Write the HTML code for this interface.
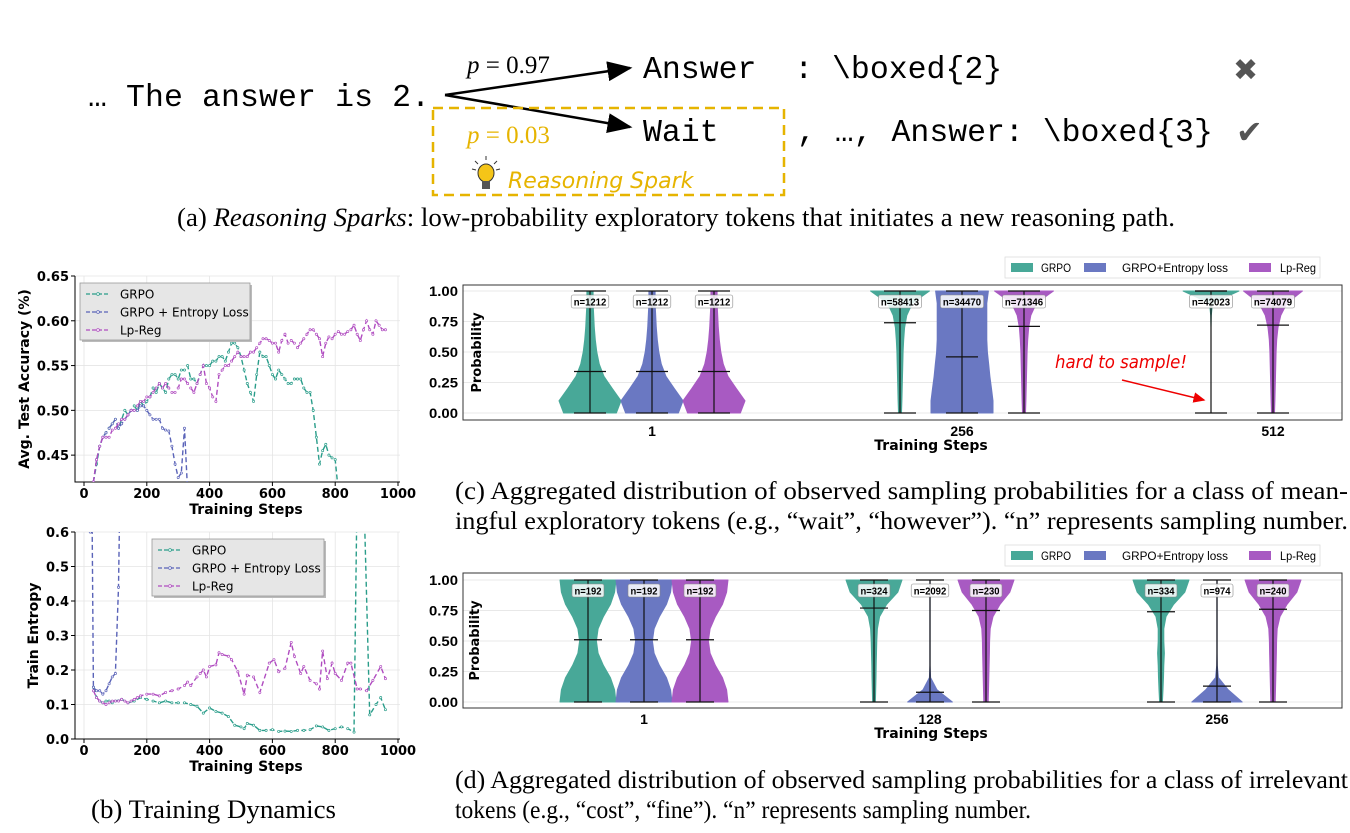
<!DOCTYPE html>
<html><head><meta charset="utf-8">
<style>
html,body{margin:0;padding:0;background:#fff;}
svg{display:block;}
.mono{font-family:"Liberation Mono","DejaVu Sans Mono",monospace;}
.serif{font-family:"Liberation Serif",serif;}
.sans{font-family:"DejaVu Sans","Liberation Sans",sans-serif;}
.cond{font-family:"Liberation Sans Narrow","Liberation Sans",sans-serif;}
</style></head>
<body>
<svg id="fig" width="1350" height="833" viewBox="0 0 1350 833" xmlns="http://www.w3.org/2000/svg">
<defs>
<marker id="ah" markerWidth="10" markerHeight="8" refX="9" refY="4" orient="auto"><path d="M0,0 L10,4 L0,8 Z" fill="#000"/></marker>
<marker id="ahr" markerWidth="8" markerHeight="7" refX="7" refY="3.5" orient="auto"><path d="M0,0 L8,3.5 L0,7 Z" fill="#e00"/></marker>
</defs>
<g>
<text x="88" y="106" class="mono" font-size="31.5" textLength="342">… The answer is 2.</text>
<line x1="445" y1="95" x2="630" y2="68" stroke="#000" stroke-width="2.5" marker-end="url(#ah)"/>
<line x1="445" y1="95" x2="630" y2="127" stroke="#000" stroke-width="2.5" marker-end="url(#ah)"/>
<text x="467" y="73" class="serif" font-size="25"><tspan font-style="italic">p</tspan> = 0.97</text>
<text x="643" y="78" class="mono" font-size="31.5" xml:space="preserve">Answer  : \boxed{2}</text>
<text x="1233" y="80" font-size="30" fill="#555" class="sans">✖</text>
<rect x="433" y="108" width="351" height="87" fill="none" stroke="#e6b400" stroke-width="2.5" stroke-dasharray="10,6"/>
<text x="467" y="143" class="serif" font-size="25" fill="#e6b400"><tspan font-style="italic">p</tspan> = 0.03</text>
<text x="643" y="141" class="mono" font-size="31.5">Wait</text>
<text x="797" y="141" class="mono" font-size="31.5">, …, Answer: \boxed{3}</text>
<text x="1236" y="143" font-size="32" fill="#555" class="sans">✔</text>
<g>
<ellipse cx="486" cy="173" rx="8" ry="9" fill="#f5c518" stroke="#333" stroke-width="1"/>
<rect x="482" y="181" width="8" height="8" fill="#555"/>
<line x1="486" y1="156" x2="486" y2="160" stroke="#333"/><line x1="475" y1="161" x2="478" y2="164" stroke="#333"/><line x1="497" y1="161" x2="494" y2="164" stroke="#333"/><line x1="472" y1="169" x2="476" y2="170" stroke="#333"/><line x1="500" y1="169" x2="496" y2="170" stroke="#333"/>
</g>
<text x="508" y="188" class="sans" font-size="22" font-style="italic" fill="#e6b400">Reasoning Spark</text>
<text x="177" y="226" class="serif" font-size="26" textLength="998" lengthAdjust="spacingAndGlyphs">(a) <tspan font-style="italic">Reasoning Sparks</tspan>: low-probability exploratory tokens that initiates a new reasoning path.</text>
</g>
<g id="accChart"></g>
<g id="entChart"></g>
<g id="violC"></g>
<g id="violD"></g>
<text x="91" y="818" class="serif" font-size="26" textLength="245" lengthAdjust="spacingAndGlyphs">(b) Training Dynamics</text>
<text x="455" y="499" class="serif" font-size="25" textLength="893" lengthAdjust="spacingAndGlyphs">(c) Aggregated distribution of observed sampling probabilities for a class of mean-</text>
<text x="455" y="529" class="serif" font-size="25" textLength="893" lengthAdjust="spacingAndGlyphs">ingful exploratory tokens (e.g., “wait”, “however”). “n” represents sampling number.</text>
<text x="455" y="788" class="serif" font-size="25" textLength="893" lengthAdjust="spacingAndGlyphs">(d) Aggregated distribution of observed sampling probabilities for a class of irrelevant</text>
<text x="455" y="818" class="serif" font-size="25" textLength="576" lengthAdjust="spacingAndGlyphs">tokens (e.g., “cost”, “fine”). “n” represents sampling number.</text>
</svg>
<script>
const accSeriesNames = ["GRPO","GRPO + Entropy Loss","Lp-Reg"];
const accGrpoSteps = [30,40,50,60,70,80,90,100,110,120,130,140,150,160,170,180,190,200,210,220,230,240,250,260,270,280,290,300,310,320,330,340,350,360,370,380,390,400,410,420,430,440,450,460,470,480,490,500,510,520,530,540,550,560,570,580,590,600,610,620,630,640,650,660,670,680,690,700,710,720,730,740,750,760,770,780,790,800,810];
const accGrpoVals = [0.42,0.44,0.46,0.47,0.475,0.48,0.485,0.49,0.48,0.49,0.50,0.495,0.50,0.505,0.50,0.51,0.505,0.51,0.515,0.525,0.52,0.53,0.525,0.52,0.535,0.54,0.54,0.535,0.545,0.545,0.55,0.535,0.535,0.53,0.54,0.55,0.55,0.55,0.555,0.555,0.56,0.56,0.555,0.565,0.575,0.575,0.57,0.56,0.545,0.53,0.52,0.51,0.54,0.565,0.56,0.56,0.55,0.54,0.535,0.545,0.54,0.535,0.53,0.53,0.535,0.535,0.535,0.525,0.52,0.52,0.50,0.47,0.44,0.455,0.462,0.45,0.447,0.445,0.41];
const accEntSteps = [30,40,50,60,70,80,90,100,110,120,130,140,150,160,170,180,190,200,210,220,230,240,250,260,270,280,290,300,310,320,330];
const accEntVals = [0.42,0.445,0.46,0.47,0.475,0.48,0.485,0.49,0.48,0.485,0.49,0.495,0.50,0.50,0.50,0.505,0.505,0.50,0.495,0.49,0.49,0.49,0.48,0.478,0.477,0.46,0.44,0.425,0.43,0.48,0.41];
const accLpSteps = [30,40,50,60,70,80,90,100,110,120,130,140,150,160,170,180,190,200,210,220,230,240,250,260,270,280,290,300,310,320,330,340,350,360,370,380,390,400,410,420,430,440,450,460,470,480,490,500,510,520,530,540,550,560,570,580,590,600,610,620,630,640,650,660,670,680,690,700,710,720,730,740,750,760,770,780,790,800,810,820,830,840,850,860,870,880,890,900,910,920,930,940,950,960];
const accLpVals = [0.42,0.445,0.46,0.47,0.47,0.47,0.478,0.48,0.485,0.49,0.49,0.495,0.50,0.50,0.505,0.51,0.51,0.515,0.515,0.52,0.525,0.53,0.525,0.53,0.525,0.52,0.52,0.525,0.535,0.535,0.53,0.525,0.52,0.53,0.54,0.55,0.53,0.525,0.515,0.51,0.54,0.545,0.55,0.55,0.555,0.56,0.565,0.56,0.56,0.56,0.565,0.565,0.57,0.575,0.58,0.58,0.578,0.575,0.575,0.565,0.578,0.585,0.575,0.578,0.575,0.57,0.575,0.58,0.585,0.59,0.59,0.585,0.58,0.56,0.575,0.582,0.58,0.585,0.588,0.585,0.585,0.588,0.59,0.595,0.585,0.578,0.59,0.60,0.59,0.585,0.60,0.595,0.59,0.59];
const accYTicks = [0.45,0.50,0.55,0.60,0.65];
const xTicks = [0,200,400,600,800,1000];

const entGrpoSteps = [30,40,50,60,70,80,90,100,120,140,160,180,200,220,240,260,280,300,320,340,360,380,400,420,440,460,480,500,510,520,540,560,580,600,620,640,660,680,700,720,740,760,780,800,820,840,860,870,890,910,930,945,960];
const entGrpoVals = [0.15,0.12,0.11,0.105,0.11,0.11,0.105,0.11,0.115,0.105,0.11,0.12,0.115,0.11,0.105,0.11,0.105,0.105,0.105,0.10,0.095,0.075,0.09,0.08,0.075,0.065,0.04,0.035,0.03,0.045,0.04,0.025,0.025,0.027,0.022,0.023,0.022,0.025,0.025,0.027,0.038,0.035,0.025,0.03,0.035,0.03,0.02,0.75,0.75,0.07,0.1,0.12,0.085];
const entEntSteps = [15,20,25,30,40,50,60,70,80,90,100,110,115];
const entEntVals = [0.75,0.6,0.75,0.15,0.14,0.14,0.13,0.14,0.16,0.18,0.19,0.44,0.75];
const entLpSteps = [30,40,50,60,70,80,90,100,110,120,130,140,150,160,170,180,200,220,240,260,280,300,320,330,340,360,370,380,390,400,420,430,440,460,470,490,510,520,540,560,590,605,620,640,660,670,690,700,720,740,750,760,775,790,800,820,840,850,870,880,900,920,945,960];
const entLpVals = [0.14,0.12,0.11,0.105,0.10,0.105,0.11,0.11,0.11,0.115,0.11,0.105,0.11,0.115,0.12,0.125,0.13,0.13,0.125,0.135,0.14,0.145,0.155,0.165,0.155,0.18,0.19,0.20,0.18,0.21,0.215,0.25,0.245,0.24,0.23,0.195,0.13,0.185,0.18,0.135,0.22,0.23,0.195,0.205,0.28,0.24,0.19,0.21,0.17,0.16,0.145,0.255,0.175,0.22,0.19,0.17,0.22,0.22,0.145,0.145,0.14,0.17,0.21,0.175];
const entYTicks = [0.0,0.1,0.2,0.3,0.4,0.5,0.6];

const lineColors = ["#2a9d8a","#5a63b8","#b04cc0"];
const NS = "http://www.w3.org/2000/svg";
function el(parent, tag, attrs, text){
  const e = document.createElementNS(NS, tag);
  for (const k in attrs) e.setAttribute(k, attrs[k]);
  if (text !== undefined) e.textContent = text;
  parent.appendChild(e);
  return e;
}

function lineChart(g, cfg){
  const {x0,x1,y0,y1,ymin,ymax,series,yTicks,yFmt,ylabel,legend} = cfg;
  const sx = v => 84 + v*(398-84)/1000;
  const sy = v => y1 - (v-ymin)/(ymax-ymin)*(y1-y0);
  const clip = el(g,"clipPath",{id:cfg.id+"clip"});
  el(clip,"rect",{x:x0,y:y0,width:x1-x0,height:y1-y0});
  xTicks.forEach(t=>{ const l=el(g,"line",{x1:sx(t),x2:sx(t),y1:y0,y2:y1,stroke:"#e4e4e4","stroke-width":0.8});
    
    
    const tl=el(g,"text",{x:sx(t),y:y1+16,"text-anchor":"middle","font-size":13,"font-weight":"bold",class:"sans"},String(t));
    
    
    el(g,"line",{x1:sx(t),x2:sx(t),y1:y1,y2:y1+4,stroke:"#000"});
  });
  yTicks.forEach(t=>{ const l=el(g,"line",{x1:x0,x2:x1,y1:sy(t),y2:sy(t),stroke:"#e4e4e4","stroke-width":0.8});
    
    
    const tl=el(g,"text",{x:x0-6,y:sy(t)+5,"text-anchor":"end","font-size":13,"font-weight":"bold",class:"sans"},yFmt(t));
    
    
    el(g,"line",{x1:x0-4,x2:x0,y1:sy(t),y2:sy(t),stroke:"#000"});
  });
  const axes = el(g,"path",{d:`M${x0},${y0} L${x0},${y1} L${x1},${y1}`,fill:"none",stroke:"#000","stroke-width":1});
  
  
  const sg = el(g,"g",{"clip-path":`url(#${cfg.id}clip)`});
  series.forEach((s,i)=>{
    const pts = s.steps.map((st,j)=>sx(st).toFixed(1)+","+sy(s.vals[j]).toFixed(1)).join(" ");
    const p = el(sg,"polyline",{points:pts,fill:"none",stroke:lineColors[i],"stroke-width":1.4,"stroke-dasharray":"5,3"});
    
    
    s.steps.forEach((st,j)=>{
      const c = el(sg,"circle",{cx:sx(st),cy:sy(s.vals[j]),r:1.1,fill:"#fff",stroke:lineColors[i],"stroke-width":0.7});
      
      
    });
  });
  const xt = el(g,"text",{x:(84+398)/2+5,y:y1+32,"text-anchor":"middle","font-size":14,"font-weight":"bold",class:"sans"},"Training Steps");
  
  
  const yt = el(g,"text",{transform:`translate(${cfg.ylx},${(y0+y1)/2}) rotate(-90)`,"text-anchor":"middle","font-size":14,"font-weight":"bold",class:"sans"},ylabel);
  
  
  const lg = el(g,"g",{});
  
  
  el(lg,"rect",{x:legend.x+2,y:legend.y+2,width:legend.w,height:57,fill:"#bbb"});
  el(lg,"rect",{x:legend.x,y:legend.y,width:legend.w,height:57,fill:"#e6e6e6",stroke:"#999","stroke-width":0.8});
  accSeriesNames.forEach((n,i)=>{
    const yy = legend.y+11+i*18;
    const ln = el(lg,"line",{x1:legend.x+6,x2:legend.x+30,y1:yy,y2:yy,stroke:lineColors[i],"stroke-width":1.2,"stroke-dasharray":"4,2"});
    
    
    el(lg,"circle",{cx:legend.x+18,cy:yy,r:1.4,fill:"#fff",stroke:lineColors[i],"stroke-width":0.8});
    const t = el(lg,"text",{x:legend.x+40,y:yy+4.5,"font-size":12,class:"sans"},n);
    
    
  });
}

lineChart(document.getElementById("accChart"),{id:"acc",x0:75,x1:400,y0:276,y1:482,ymin:0.42,ymax:0.65,yTicks:accYTicks,yFmt:v=>v.toFixed(2),ylabel:"Avg. Test Accuracy (%)",ylx:29,legend:{x:80,y:283,w:170},
  series:[{key:"grpo",steps:accGrpoSteps,vals:accGrpoVals},{key:"grpo-entropy",steps:accEntSteps,vals:accEntVals},{key:"lp-reg",steps:accLpSteps,vals:accLpVals}]});
lineChart(document.getElementById("entChart"),{id:"ent",x0:75,x1:400,y0:532,y1:739,ymin:0,ymax:0.6,yTicks:entYTicks,yFmt:v=>v.toFixed(1),ylabel:"Train Entropy",ylx:38,legend:{x:152,y:539,w:172},
  series:[{key:"grpo",steps:entGrpoSteps,vals:entGrpoVals},{key:"grpo-entropy",steps:entEntSteps,vals:entEntVals},{key:"lp-reg",steps:entLpSteps,vals:entLpVals}]});

const violinMethods = ["GRPO","GRPO+Entropy loss","Lp-Reg"];
const violinColors = ["#48a898","#6a78c2","#a85ac2"];
const cSteps = ["1","256","512"];
const cCounts = [[1212,1212,1212],[58413,34470,71346],[42023,null,74079]];
const cMeans = [[0.34,0.34,0.34],[0.74,0.46,0.71],[1.0,null,0.72]];
const cDens1 = [0.85,1.0,0.72,0.45,0.3,0.22,0.17,0.14,0.12,0.1,0.1];
const cDensGrpo256 = [0.05,0.06,0.07,0.08,0.09,0.1,0.12,0.15,0.22,0.4,0.95];
const cDensEnt256 = [1.0,1.0,0.95,0.9,0.86,0.82,0.8,0.8,0.8,0.8,0.85];
const cDensLp256 = [0.05,0.06,0.07,0.08,0.09,0.1,0.12,0.15,0.22,0.4,0.95];
const cDensGrpo512 = [0,0,0,0,0,0,0,0,0.01,0.05,0.9];
const cDensLp512 = [0.05,0.06,0.07,0.08,0.09,0.1,0.12,0.16,0.25,0.45,0.95];
const dSteps = ["1","128","256"];
const dCounts = [[192,192,192],[324,2092,230],[334,974,240]];
const dMeans = [[0.51,0.51,0.51],[0.77,0.08,0.75],[0.74,0.13,0.76]];
const dDens1 = [1.0,0.95,0.8,0.55,0.36,0.3,0.36,0.55,0.8,0.95,1.0];
const dDensGrpo128 = [0.05,0.06,0.07,0.08,0.09,0.1,0.12,0.2,0.45,0.85,1.0];
const dDensEnt128 = [0.8,0.25,0.02,0.005,0.005,0.005,0.005,0.005,0.005,0.005,0.005];
const dDensLp128 = [0.08,0.09,0.1,0.11,0.12,0.13,0.15,0.25,0.5,0.85,1.0];
const dDensGrpo256 = [0.05,0.07,0.09,0.1,0.12,0.1,0.1,0.18,0.45,0.85,1.0];
const dDensEnt256 = [0.9,0.4,0.05,0.01,0.005,0.005,0.005,0.005,0.005,0.005,0.005];
const dDensLp256 = [0.08,0.09,0.1,0.11,0.12,0.13,0.15,0.25,0.5,0.85,1.0];

function violinChart(g, cfg){
  const {x0,x1,y0,y1,yTop,yBot,centers,offset,halfMax,steps,counts,means,dens,legendY,slots} = cfg;
  const sy = v => yBot - v*(yBot-yTop);
  [0,0.25,0.5,0.75,1.0].forEach(t=>{
    const l = el(g,"line",{x1:x0,x2:x1,y1:sy(t),y2:sy(t),stroke:"#e8e8e8","stroke-width":1});
    
    
    const tl = el(g,"text",{x:x0-5,y:sy(t)+5,"text-anchor":"end","font-size":14,"font-weight":"bold",class:"cond",textLength:29,lengthAdjust:"spacingAndGlyphs"},t.toFixed(2));
    
    
  });
  const fr = el(g,"rect",{x:x0,y:y0,width:x1-x0,height:y1-y0,fill:"none",stroke:"#333","stroke-width":1});
  
  
  steps.forEach((s,ci)=>{
    const cx = centers[ci];
    const tl = el(g,"text",{x:cx,y:y1+16,"text-anchor":"middle","font-size":14,"font-weight":"bold",class:"cond"},s);
    
    
    for(let m=0;m<3;m++){
      if(counts[ci][m]===null) continue;
      const vx = cx + slots[ci][m]*offset;
      const d = dens[ci][m];
      const n = d.length-1;
      let right=[], left=[];
      d.forEach((w,k)=>{ const y=sy(k/n); right.push((vx+w*halfMax).toFixed(1)+","+y.toFixed(1)); left.unshift((vx-w*halfMax).toFixed(1)+","+y.toFixed(1)); });
      const body = el(g,"polygon",{points:right.concat(left).join(" "),fill:violinColors[m],stroke:violinColors[m],"stroke-width":1,"stroke-linejoin":"round"});
      
      
      const cap = cfg.cap;
      el(g,"line",{x1:vx,x2:vx,y1:sy(1),y2:sy(0),stroke:"#111","stroke-width":1.2});
      el(g,"line",{x1:vx-cap,x2:vx+cap,y1:sy(1),y2:sy(1),stroke:"#111","stroke-width":1.2});
      el(g,"line",{x1:vx-cap,x2:vx+cap,y1:sy(0),y2:sy(0),stroke:"#111","stroke-width":1.2});
      const ml = el(g,"line",{x1:vx-cap,x2:vx+cap,y1:sy(means[ci][m]),y2:sy(means[ci][m]),stroke:"#111","stroke-width":1.2});
      
      
      const lbl = "n="+counts[ci][m];
      const w = lbl.length*5.6+4;
      const ly = sy(1)+11;
      el(g,"rect",{x:vx-w/2,y:ly-7,width:w,height:13,rx:2,fill:"#fff","fill-opacity":0.85,stroke:"#888","stroke-width":0.6});
      const nt = el(g,"text",{x:vx,y:ly+3.5,"text-anchor":"middle","font-size":10.5,"font-weight":"bold",class:"cond",textLength:w-5,lengthAdjust:"spacingAndGlyphs"},lbl);
      
      
    }
  });
  const xt = el(g,"text",{x:931,y:y1+30,"text-anchor":"middle","font-size":14,"font-weight":"bold",class:"sans"},"Training Steps");
  
  
  const yt = el(g,"text",{transform:`translate(${cfg.ylx},${(y0+y1)/2}) rotate(-90)`,"text-anchor":"middle","font-size":13,"font-weight":"bold",class:"sans"},"Probability");
  
  
  const lg = el(g,"g",{});
  
  
  el(lg,"rect",{x:1005,y:legendY,width:315,height:21,fill:"#fff",stroke:"#ddd","stroke-width":0.8});
  const lx = [1011,1084,1249];
  const tx = [1041,1122,1280];
  const lw = [30,106,36];
  violinMethods.forEach((n,i)=>{
    el(lg,"rect",{x:lx[i],y:legendY+6,width:22,height:9,fill:violinColors[i]});
    const t = el(lg,"text",{x:tx[i],y:legendY+15,"font-size":11.5,class:"cond",textLength:lw[i],lengthAdjust:"spacingAndGlyphs"},n);
    
    
  });
}

const gc = document.getElementById("violC");
violinChart(gc,{x0:463,x1:1342,y0:285,y1:420,yTop:291,yBot:413,centers:[652,962,1273],offset:62,halfMax:31,cap:16,steps:cSteps,counts:cCounts,means:cMeans,
  slots:[[-1,0,1],[-1,0,1],[-1,0,0]],
  dens:[[cDens1,cDens1,cDens1],[cDensGrpo256,cDensEnt256,cDensLp256],[cDensGrpo512,null,cDensLp512]],legendY:257,ylx:481});
const hs = el(gc,"text",{x:1055,y:368,"font-size":18,"font-style":"italic",fill:"#e00",class:"sans",textLength:132,lengthAdjust:"spacingAndGlyphs"},"hard to sample!");


const ha = el(gc,"line",{x1:1122,y1:380,x2:1204,y2:400,stroke:"#e00","stroke-width":1.5,"marker-end":"url(#ahr)"});



violinChart(document.getElementById("violD"),{x0:463,x1:1342,y0:573,y1:708,yTop:580,yBot:702,centers:[644,930,1217],offset:56,halfMax:28,cap:14,steps:dSteps,counts:dCounts,means:dMeans,
  slots:[[-1,0,1],[-1,0,1],[-1,0,1]],
  dens:[[dDens1,dDens1,dDens1],[dDensGrpo128,dDensEnt128,dDensLp128],[dDensGrpo256,dDensEnt256,dDensLp256]],legendY:545,ylx:479});
</script>
</body></html>
